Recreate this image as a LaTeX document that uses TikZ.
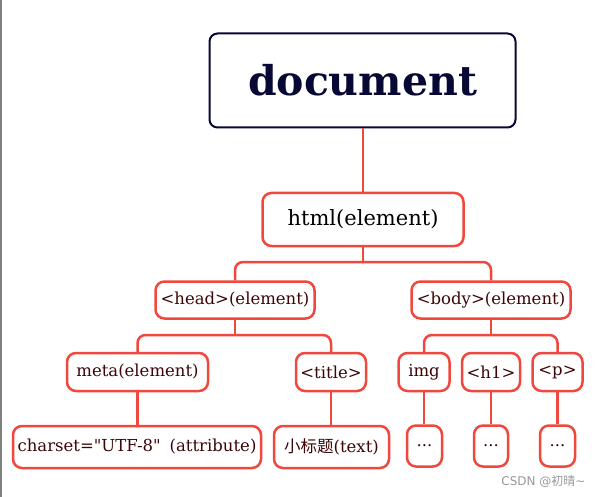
\documentclass[tikz,border=0pt]{standalone}
\usepackage{fontspec}
\setmainfont{DejaVu Serif}[Ligatures=TeXOff]
\newfontfamily\cjk{Noto Sans CJK SC}
\newfontfamily\wmfont{DejaVu Sans}
\definecolor{redline}{RGB}{240,72,62}
\definecolor{navy}{RGB}{8,8,52}
\definecolor{txt}{RGB}{60,6,6}
\begin{document}
\begin{tikzpicture}[x=1pt,y=-1pt,
  box/.style={draw=redline,line width=2.5pt,rounded corners=9pt,fill=white,
    inner sep=0pt,minimum height=38pt,text=txt,font=\fontsize{16.5}{18}\selectfont},
  conn/.style={draw=redline,line width=2.5pt,rounded corners=8pt}]
\useasboundingbox (0,0) rectangle (602,497);
\fill[white] (0,0) rectangle (602,497);
\draw[gray,line width=1.5pt] (0.75,0) -- (0.75,497);
% nodes
\node[draw=navy,line width=2pt,rounded corners=8pt,inner sep=0pt,
  minimum width=306pt,minimum height=94pt,text=navy,
  font=\fontsize{41}{44}\selectfont\bfseries] (doc) at (362.5,80.5) {document};
\node[box,minimum width=201pt,minimum height=53pt,text=black,
  font=\fontsize{21}{24}\selectfont] (html) at (363,219.5) {html(element)};
\node[box,minimum width=159pt,minimum height=37pt] (head) at (235,300) {<head>(element)};
\node[box,minimum width=159pt,minimum height=37pt] (body) at (491,300) {<body>(element)};
\node[box,minimum width=141pt] (meta) at (137.5,372) {meta(element)};
\node[box,minimum width=70pt] (title) at (331,372) {<title>};
\node[box,minimum width=51pt] (img) at (424,372) {img};
\node[box,minimum width=58pt] (h1) at (491,372) {<h1>};
\node[box,minimum width=50pt] (p) at (557.5,372) {<p>};
\node[box,minimum width=248pt,minimum height=42pt] (charset) at (137,447) {charset="UTF-8"\hspace{9pt}(attribute)};
\node[box,minimum width=115pt,minimum height=42pt] (xbt) at (331.5,447) {{\cjk 小标题}(text)};
\node[box,minimum width=35pt,minimum height=41pt] (d1) at (424.5,446) {...};
\node[box,minimum width=34pt,minimum height=41pt] (d2) at (491,446) {...};
\node[box,minimum width=35pt,minimum height=41pt] (d3) at (557.5,446) {...};
% bus points
\coordinate (b1) at (363,262);
\coordinate (b2) at (235,335);
\coordinate (b3) at (491,335);
% connectors
\draw[conn] (doc.south -| html.north) -- (html.north);
\draw[conn] (html.south) -- (b1);
\draw[conn] (head.north) |- (b1) -| (body.north);
\draw[conn] (head.south) -- (b2);
\draw[conn] (meta.north) |- (b2) -| (title.north);
\draw[conn] (body.south) -- (b3);
\draw[conn] (img.north) |- (b3) -| (p.north);
\draw[conn] (meta.south) -- (meta.south |- charset.north);
\draw[conn] (title.south) -- (title.south |- xbt.north);
\draw[conn] (img.south) -- (img.south |- d1.north);
\draw[conn] (h1.south) -- (h1.south |- d2.north);
\draw[conn] (p.south) -- (p.south |- d3.north);
% watermark
\node[anchor=east,text=gray!80,font=\fontsize{12}{13}\selectfont] (wm) at (589,481) {\wmfont CSDN @{\cjk 初晴}\textasciitilde};
\end{tikzpicture}
\end{document}
